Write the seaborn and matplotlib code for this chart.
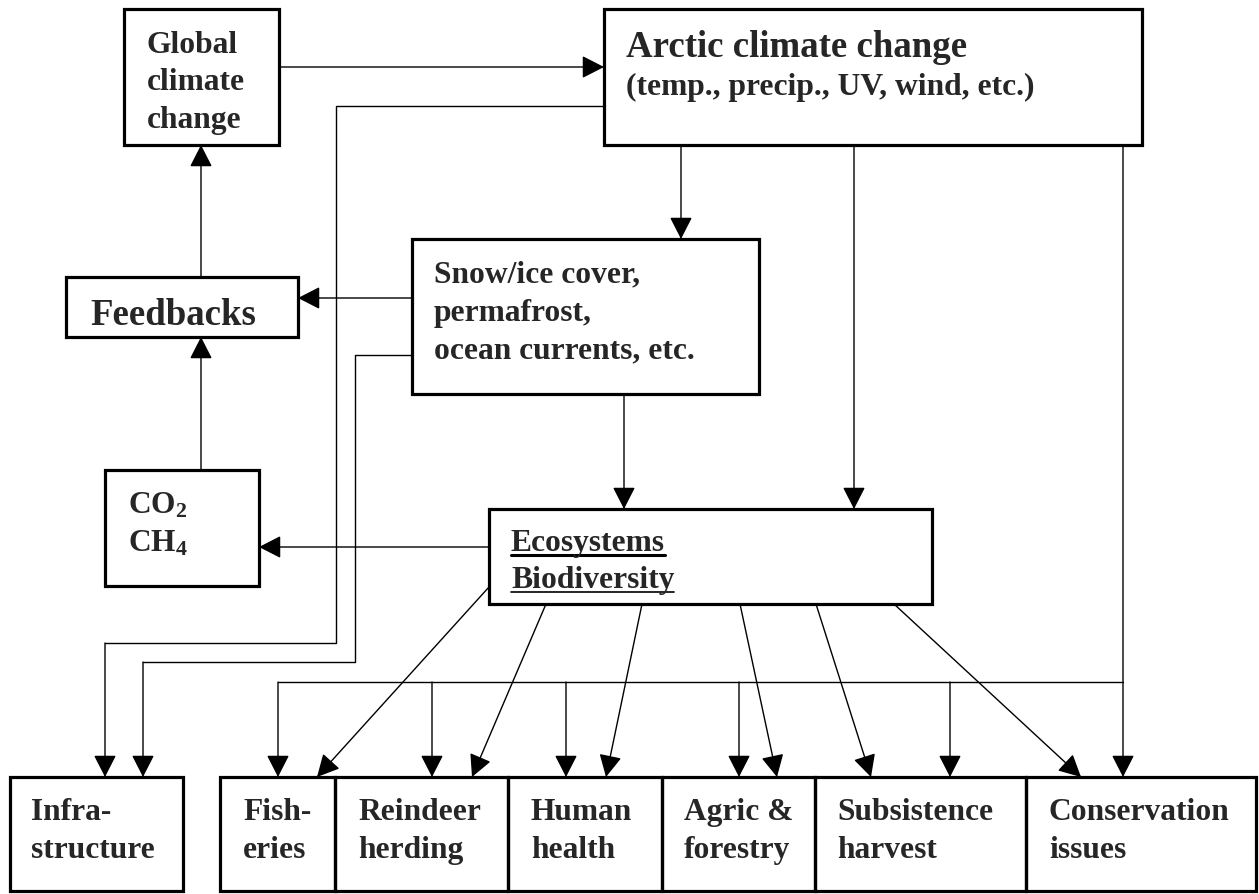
import matplotlib.pyplot as plt
import seaborn as sns
from matplotlib.patches import Rectangle

sns.set_theme(style="white")
plt.rcParams['font.family'] = ['Liberation Serif', 'DejaVu Serif']
plt.rcParams['mathtext.fontset'] = 'custom'
plt.rcParams['mathtext.rm'] = 'Liberation Serif:bold'
plt.rcParams['mathtext.it'] = 'Liberation Serif:bold'
plt.rcParams['mathtext.bf'] = 'Liberation Serif:bold'

# boxes of the flow diagram (image pixel coordinates, y down)
box_names = ["global", "arctic", "snow", "feedbacks", "co2", "eco",
             "infra", "fish", "reindeer", "health", "agric", "subsist", "conserv"]
box_left = [124, 604, 412, 66, 105, 489, 10, 220, 335, 508, 662, 815, 1026]
box_top = [9, 9, 239, 277, 470, 509, 777, 777, 777, 777, 777, 777, 777]
box_right = [279, 1142, 759, 298, 259, 932, 183, 335, 508, 662, 815, 1026, 1256]
box_bottom = [145, 145, 394, 337, 586, 604, 891, 891, 891, 891, 891, 891, 891]

# text lines: (x, baseline, text, big?)
label_x = [147, 147, 147, 626, 626, 90, 434, 434, 434, 128, 128,
           31, 31, 243, 243, 358, 358, 531, 531, 684, 684, 837, 837, 1049, 1049]
label_y = [53, 90, 128, 57, 95, 325, 282, 321, 358, 513, 551,
           820, 858, 820, 858, 820, 858, 820, 858, 820, 858, 820, 858, 820, 858]
label_text = ["Global", "climate", "change",
              "Arctic climate change", "(temp., precip., UV, wind, etc.)",
              "Feedbacks",
              "Snow/ice cover,", "permafrost,", "ocean currents, etc.",
              r"CO$_{2}$", r"CH$_{4}$",
              "Infra-", "structure", "Fish-", "eries", "Reindeer", "herding",
              "Human", "health", "Agric &", "forestry", "Subsistence", "harvest",
              "Conservation", "issues"]
label_big = [False, False, False, True, False, True] + [False] * 19

eco_lines = ["Ecosystems", "Biodiversity"]
eco_y = [551, 588]

# connectors: polylines, arrow head on the last point
routes = [
    [(279, 67), (604, 67)],
    [(681, 145), (681, 239)],
    [(854, 145), (854, 509)],
    [(1123, 145), (1123, 777)],
    [(412, 298), (298, 298)],
    [(201, 277), (201, 145)],
    [(201, 470), (201, 337)],
    [(624, 394), (624, 509)],
    [(489, 547), (259, 547)],
    [(604, 106), (336, 106), (336, 643), (105, 643), (105, 777)],
    [(412, 355), (355, 355), (355, 662), (143, 662), (143, 777)],
    [(1123, 682), (278, 682), (278, 777)],
    [(432, 682), (432, 777)],
    [(566, 682), (566, 777)],
    [(739, 682), (739, 777)],
    [(950, 682), (950, 777)],
    [(489, 587), (317, 777)],
    [(546, 604), (472, 777)],
    [(642, 604), (606, 777)],
    [(740, 604), (777, 777)],
    [(816, 604), (871, 777)],
    [(894, 604), (1081, 777)],
]

fig = plt.figure(figsize=(12.59, 8.94), dpi=100)
ax = fig.add_axes([0, 0, 1, 1])
ax.set_xlim(0, 1259)
ax.set_ylim(894, 0)
ax.axis('off')

for l, t, r, b in zip(box_left, box_top, box_right, box_bottom):
    ax.add_patch(Rectangle((l, t), r - l, b - t, fill=False, ec='black', lw=2.3, zorder=3))

arrow = dict(arrowstyle='-|>,head_length=1.37,head_width=0.7', mutation_scale=10,
             lw=1.0, color='black', shrinkA=0, shrinkB=0)
for pts in routes:
    if len(pts) > 2:
        xs = [p[0] for p in pts[:-1]]
        ys = [p[1] for p in pts[:-1]]
        sns.lineplot(x=xs, y=ys, sort=False, estimator=None, color='black', lw=1.0, ax=ax)
    ax.annotate('', xy=pts[-1], xytext=pts[-2], arrowprops=arrow)

for x, y, s, big in zip(label_x, label_y, label_text, label_big):
    ax.text(x, y, s, fontsize=26.6 if big else 22.7, fontweight='bold',
            ha='left', va='baseline', zorder=4)

fig.canvas.draw()
inv = ax.transData.inverted()
for s, y, uw in zip(eco_lines, eco_y, [2.2, 1.2]):
    t = ax.text(511, y, s, fontsize=22.7, fontweight='bold', ha='left', va='baseline')
    bb = t.get_window_extent(renderer=fig.canvas.get_renderer())
    x0, _ = inv.transform((bb.x0, bb.y0))
    x1, _ = inv.transform((bb.x1, bb.y0))
    ax.plot([x0, x1], [y + 4, y + 4], color='black', lw=uw)

fig.savefig('out.png', dpi=100, facecolor='white')
